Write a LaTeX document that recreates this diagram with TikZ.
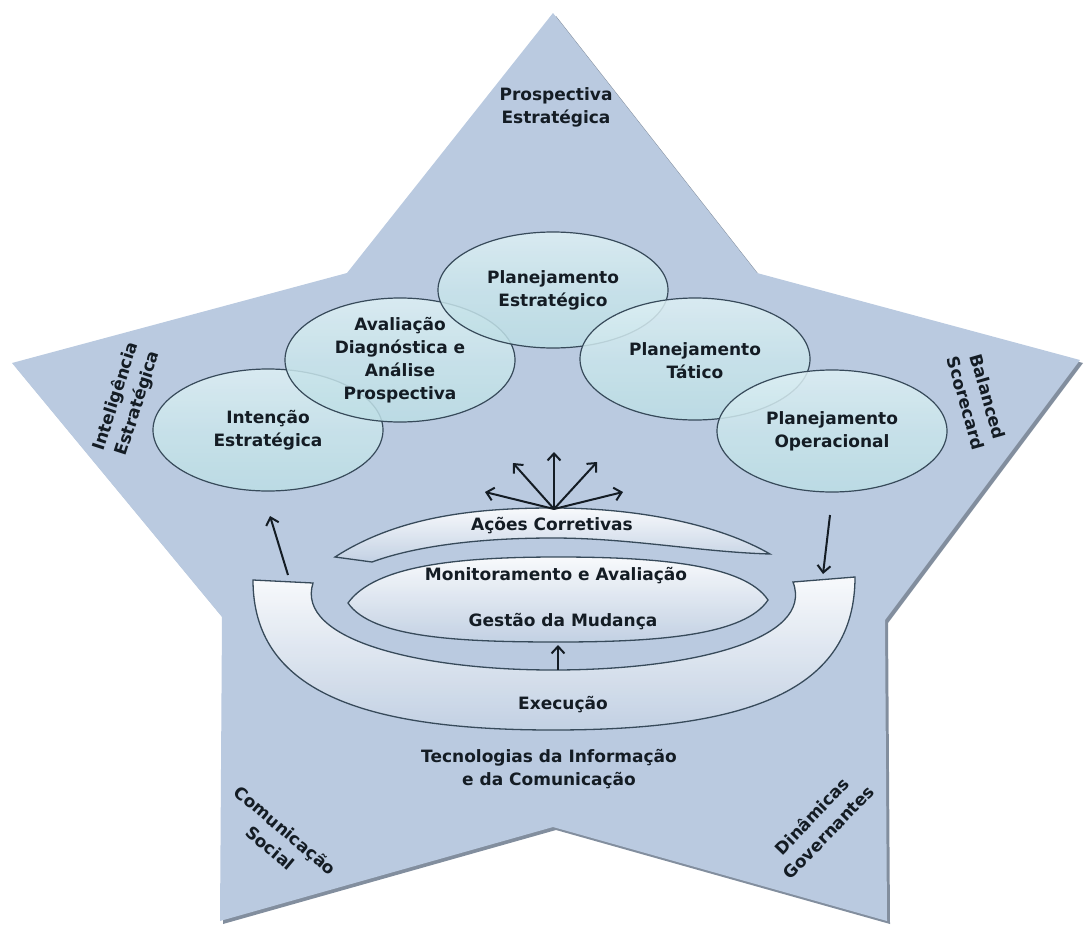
\documentclass[tikz,border=0pt]{standalone}
\usepackage{fontspec}
\setmainfont{DejaVu Sans}
\usetikzlibrary{arrows.meta}
\usetikzlibrary{shapes.geometric}

\definecolor{starblue}{RGB}{186,202,224}
\definecolor{starshade}{RGB}{130,142,158}
\definecolor{eggteal}{RGB}{188,222,229}
\definecolor{eggtop}{RGB}{222,240,244}
\definecolor{rimdark}{RGB}{55,74,90}
\definecolor{bandblue}{RGB}{196,210,228}
\definecolor{inkdark}{RGB}{20,28,36}

\begin{document}
\begin{tikzpicture}[x=1pt,y=-1pt,>={Straight Barb[length=7pt,width=13pt]},
    txt/.style={font=\bfseries\fontsize{17}{23}\selectfont, text=inkdark, align=center, inner sep=0pt},
    egg/.style={ellipse, draw=rimdark, line width=1.2pt, top color=eggtop, bottom color=eggteal, middle color=eggteal!60!eggtop, fill opacity=0.85, minimum width=230pt, minimum height=122pt, inner sep=0pt},
    band/.style={draw=rimdark, line width=1.3pt, top color=white, bottom color=bandblue, fill opacity=0.9},
    arr/.style={->, line width=2pt, color=inkdark}]

      \useasboundingbox (0,0) rectangle (1084,926);

      % star
      \fill[starshade, shift={(3,3)}] (553,13) -- (757,273) -- (1080,360) -- (885,620) -- (887,921) -- (553,827) -- (220,921) -- (222,617) -- (12,363) -- (347,273) -- cycle;
      \fill[starblue] (553,13) -- (757,273) -- (1080,360) -- (885,620) -- (887,921) -- (553,827) -- (220,921) -- (222,617) -- (12,363) -- (347,273) -- cycle;

      % planning ellipses
      \node[egg] (intencao) at (268,430) {};
      \node[egg, minimum height=124pt] (avaliacao) at (400,360) {};
      \node[egg, minimum height=116pt] (estrat) at (553,290) {};
      \node[egg] (tatico) at (695,359) {};
      \node[egg] (operac) at (832,431) {};

      \node[txt] (tintencao) at (intencao) {Intenção\\Estratégica};
      \node[txt] (tavaliacao) at (avaliacao) {Avaliação\\Diagnóstica e\\Análise\\Prospectiva};
      \node[txt] (testrat) at (estrat) {Planejamento\\Estratégico};
      \node[txt] (ttatico) at (695,361) {Planejamento\\Tático};
      \node[txt] (toperac) at (operac) {Planejamento\\Operacional};

      % bands
      \draw[band] (335,557) .. controls (400,515) and (480,508) .. (553,508) .. controls (640,508) and (720,525) .. (770,554) .. controls (700,552) and (630,538) .. (553,538) .. controls (470,538) and (410,548) .. (372,562) -- cycle;
      \draw[band] (348,603) .. controls (375,565) and (460,557) .. (558,557) .. controls (660,557) and (745,565) .. (768,600) .. controls (745,635) and (660,642) .. (558,642) .. controls (460,642) and (372,638) .. (348,603) -- cycle;
      \draw[band] (253,580) -- (313,583) .. controls (295,640) and (420,670) .. (553,670) .. controls (690,670) and (815,640) .. (793,582) -- (855,577) .. controls (855,690) and (750,730) .. (553,730) .. controls (360,730) and (253,690) .. (253,580) -- cycle;

      \node[txt] (acoes) at (552,526) {Ações Corretivas};
      \node[txt] (monit) at (556,576) {Monitoramento e Avaliação};
      \node[txt] (gestao) at (563,622) {Gestão da Mudança};
      \node[txt] (execucao) at (563,705) {Execução};
      \node[txt] (tic) at (549,769) {Tecnologias da Informação\\e da Comunicação};

      % star tips
      \node[txt] (prosp) at (556,107) {Prospectiva\\Estratégica};
      \node[txt, rotate=72] (intel) at (127,400) {Inteligência\\Estratégica};
      \node[txt, rotate=-74] (bsc) at (977,400) {Balanced\\Scorecard};
      \node[txt, rotate=-40] (comsoc) at (278,839) {Comunicação\\Social};
      \node[txt, rotate=46] (dinam) at (820,824) {Dinâmicas\\Governantes};

      % arrows
      \coordinate (upL) at (288,575);
      \coordinate (upLtip) at (270,516);
      \coordinate (dnR) at (830,515);
      \coordinate (dnRtip) at (823,574);
      \coordinate (midup) at (558,670);
      \coordinate (miduptip) at (558,645);
      \coordinate (fan) at (554,509);
      \foreach \a/\b [count=\k] in {485/492,513/463,554/452,597/462,623/492}
        \coordinate (fan\k) at (\a,\b);

      \draw[arr] (upL) -- (upLtip);
      \draw[arr] (dnR) -- (dnRtip);
      \draw[arr] (midup) -- (miduptip);
      \foreach \k in {1,...,5}
        \draw[arr] (fan) -- (fan\k);
    \end{tikzpicture}
\end{document}
